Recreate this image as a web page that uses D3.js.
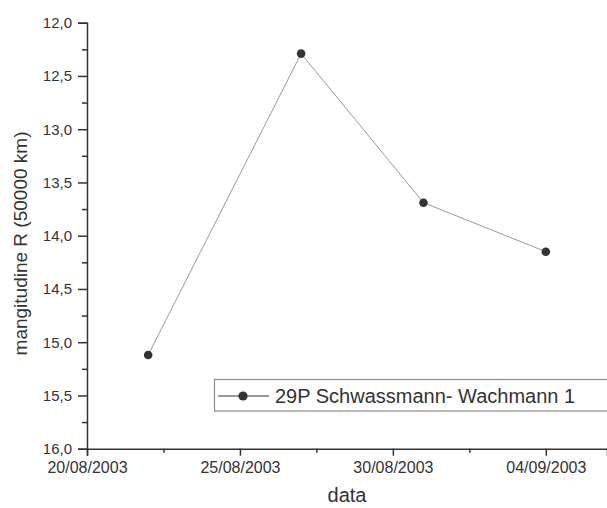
<!DOCTYPE html>
<html>
<head>
<meta charset="utf-8">
<script src="https://cdn.jsdelivr.net/npm/d3@7"></script>
<style>
  html, body { margin: 0; padding: 0; background: #fff; }
  svg { display: block; font-family: "Liberation Sans", Arial, sans-serif; }
</style>
</head>
<body>
<svg id="chart" width="607" height="508"></svg>
<script>
const dates = ['2003-08-22', '2003-08-27', '2003-08-31', '2003-09-04'];
const magnitudes = [15.12, 12.29, 13.69, 14.15];
const xTickDates = ['2003-08-20', '2003-08-25', '2003-08-30', '2003-09-04'];
const xDomain = ['2003-08-20', '2003-09-06'];
const yDomain = [12, 16];
const seriesName = '29P Schwassmann- Wachmann 1';

const parse = d3.utcParse('%Y-%m-%d');
const fmtDate = d3.utcFormat('%d/%m/%Y');
const comma = d3.formatLocale({ decimal: ',', thousands: '.', grouping: [3], currency: ['', ''] });
const fmtY = comma.format('.1f');

const svg = d3.select('#chart');
const ink = '#333';

const x = d3.scaleUtc().domain(xDomain.map(parse)).range([87, 607]);
const y = d3.scaleLinear().domain(yDomain).range([22.7, 448.7]);

const points = dates.map((d, i) => ({ date: parse(d), value: magnitudes[i] }));

// minor ticks first
const yMinor = d3.range(yDomain[0], yDomain[1] + 0.001, 0.25).filter((v) => Math.round(v * 4) % 2 === 1);
svg.append('g')
  .attr('transform', 'translate(87,0)')
  .call(d3.axisLeft(y).tickValues(yMinor).tickSize(5).tickFormat(''))
  .call((g) => g.select('.domain').remove())
  .call((g) => g.selectAll('line').attr('stroke', ink).attr('stroke-width', 1.5));

const xMajor = xTickDates.map(parse);
const xMinor = xMajor.map((d) => d3.utcHour.offset(d, 60));
svg.append('g')
  .attr('transform', 'translate(0,448.7)')
  .call(d3.axisBottom(x).tickValues(xMinor).tickSize(4).tickFormat(''))
  .call((g) => g.select('.domain').remove())
  .call((g) => g.selectAll('line').attr('stroke', ink).attr('stroke-width', 1.5));

// major y axis
svg.append('g')
  .attr('transform', 'translate(87,0)')
  .call(d3.axisLeft(y).tickValues(d3.range(12, 16.01, 0.5)).tickSize(9).tickPadding(6).tickFormat(fmtY))
  .call((g) => g.select('.domain').attr('stroke', ink).attr('stroke-width', 1.5))
  .call((g) => g.selectAll('line').attr('stroke', ink).attr('stroke-width', 1.5))
  .call((g) => g.selectAll('text').attr('fill', ink).attr('font-size', 15).attr('font-family', null));

// major x axis
svg.append('g')
  .attr('transform', 'translate(0,448.7)')
  .call(d3.axisBottom(x).tickValues(xMajor).tickSize(7).tickPadding(6).tickFormat(fmtDate))
  .call((g) => g.select('.domain').attr('stroke', ink).attr('stroke-width', 1.5))
  .call((g) => g.selectAll('line').attr('stroke', ink).attr('stroke-width', 1.5))
  .call((g) => g.selectAll('text').attr('fill', ink).attr('font-size', 16).attr('font-family', null));

// axis titles
svg.append('text')
  .attr('transform', 'translate(27,243.5) rotate(-90)')
  .attr('text-anchor', 'middle')
  .attr('fill', ink)
  .attr('font-size', 19)
  .text('mangitudine R (50000 km)');

svg.append('text')
  .attr('x', 347)
  .attr('y', 502)
  .attr('text-anchor', 'middle')
  .attr('fill', ink)
  .attr('font-size', 20)
  .text('data');

// series
const line = d3.line().x((d) => x(d.date)).y((d) => y(d.value));
svg.append('path')
  .datum(points)
  .attr('fill', 'none')
  .attr('stroke', '#9a9a9a')
  .attr('stroke-width', 1)
  .attr('d', line);

svg.selectAll('circle.pt')
  .data(points)
  .join('circle')
  .attr('class', 'pt')
  .attr('cx', (d) => x(d.date))
  .attr('cy', (d) => y(d.value))
  .attr('r', 4.3)
  .attr('fill', ink);

// legend
const legend = svg.append('g');
legend.append('rect')
  .attr('x', 214.5)
  .attr('y', 379.5)
  .attr('width', 400)
  .attr('height', 31.5)
  .attr('fill', '#fff')
  .attr('stroke', '#8a8a8a')
  .attr('stroke-width', 1.2);
legend.append('line')
  .attr('x1', 218).attr('x2', 269)
  .attr('y1', 396).attr('y2', 396)
  .attr('stroke', ink)
  .attr('stroke-width', 1);
legend.append('circle')
  .attr('cx', 243).attr('cy', 396)
  .attr('r', 4.6)
  .attr('fill', ink);
legend.append('text')
  .attr('x', 275)
  .attr('y', 403)
  .attr('fill', ink)
  .attr('font-size', 20)
  .text(seriesName);
</script>
</body>
</html>
